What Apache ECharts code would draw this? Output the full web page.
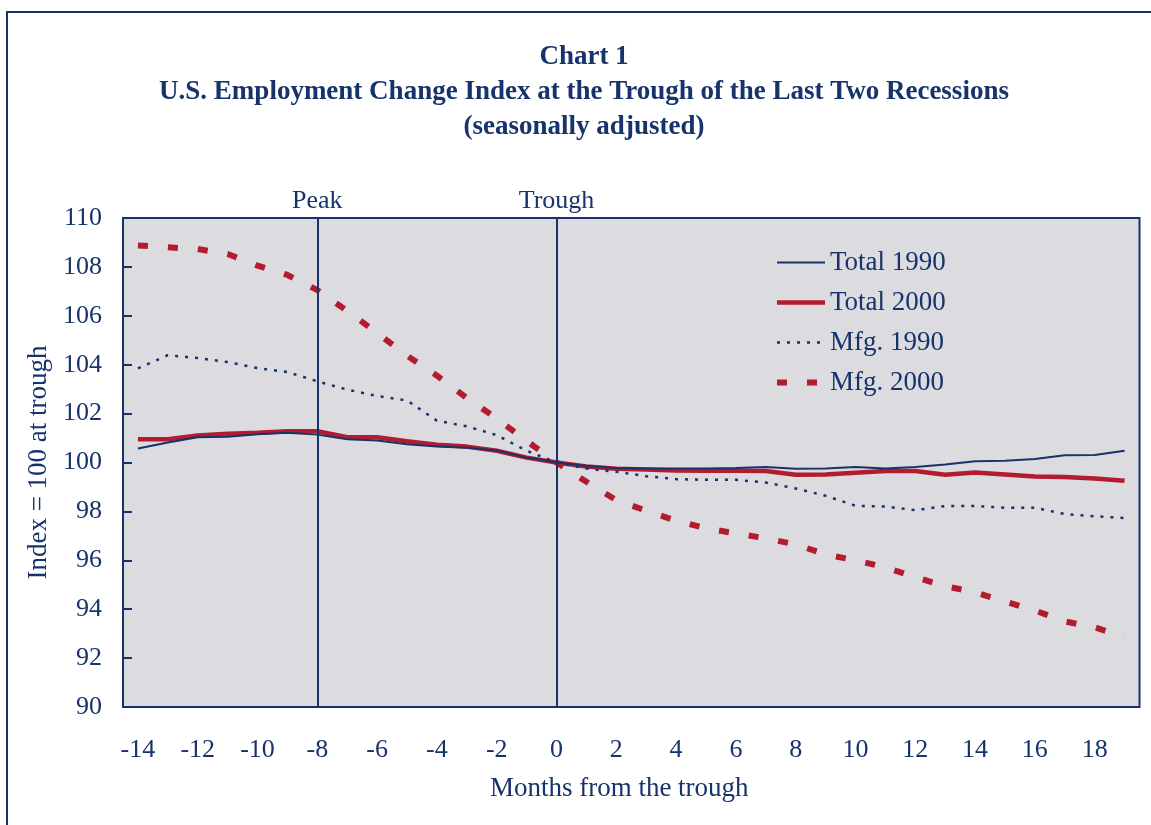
<!DOCTYPE html>
<html>
<head>
<meta charset="utf-8">
<title>Chart 1</title>
<script src="https://cdn.jsdelivr.net/npm/echarts@6/dist/echarts.min.js"></script>
<style>
  html, body { margin: 0; padding: 0; background: #fff; }
  #container { width: 1151px; height: 825px; }
</style>
</head>
<body>
<div id="container"></div>
<script>
// months from the trough, -14 .. 19
var months = [];
for (var m = -14; m <= 19; m++) months.push(String(m));

var total1990 = [100.57, 100.82, 101.03, 101.05, 101.16, 101.22, 101.14, 100.95, 100.90, 100.75, 100.65, 100.60, 100.49, 100.20,
  100.00, 99.86, 99.77, 99.75, 99.75, 99.75, 99.78, 99.82, 99.74, 99.75,
  99.82, 99.75, 99.82, 99.92, 100.05, 100.07, 100.14, 100.30, 100.31, 100.48];
var total2000 = [100.95, 100.95, 101.10, 101.18, 101.22, 101.28, 101.28, 101.03, 101.03, 100.87, 100.73, 100.65, 100.48, 100.20,
  100.00, 99.84, 99.74, 99.71, 99.67, 99.66, 99.66, 99.65, 99.50, 99.51,
  99.58, 99.65, 99.65, 99.50, 99.59, 99.51, 99.43, 99.41, 99.35, 99.25];
var mfg1990 = [103.85, 104.39, 104.27, 104.11, 103.86, 103.70, 103.32, 102.98, 102.72, 102.54, 101.71, 101.48, 101.12, 100.48,
  100.00, 99.75, 99.62, 99.44, 99.32, 99.29, 99.29, 99.18, 98.94, 98.64,
  98.23, 98.20, 98.05, 98.22, 98.22, 98.15, 98.15, 97.89, 97.80, 97.73];
var mfg2000 = [108.88, 108.80, 108.73, 108.53, 108.05, 107.67, 107.05, 106.20, 105.30, 104.37, 103.55, 102.64, 101.80, 100.88,
  100.00, 99.21, 98.46, 98.03, 97.62, 97.31, 97.10, 96.90, 96.65, 96.24,
  96.00, 95.71, 95.31, 94.94, 94.69, 94.31, 93.95, 93.50, 93.26, 92.86];

var markers = [{ month: '-8', label: 'Peak' }, { month: '0', label: 'Trough' }];

var navy = '#17336b';
var red = '#b31b2f';
var serif = '"Liberation Serif", "DejaVu Serif", serif';

var myChart = echarts.init(document.getElementById('container'));

var option = {
  animation: false,
  backgroundColor: '#fff',
  textStyle: { fontFamily: serif, color: navy },
  title: {
    text: 'Chart 1\nU.S. Employment Change Index at the Trough of the Last Two Recessions\n(seasonally adjusted)',
    left: 579,
    top: 35,
    textAlign: 'center',
    textStyle: {
      fontFamily: serif,
      fontSize: 27,
      fontWeight: 'bold',
      color: navy,
      lineHeight: 35
    }
  },
  graphic: [{
    type: 'rect',
    shape: { x: 7, y: 12, width: 1200, height: 900 },
    style: { fill: 'none', stroke: navy, lineWidth: 2 },
    silent: true
  }],
  legend: {
    orient: 'vertical',
    left: 769,
    top: 244,
    itemWidth: 48,
    itemHeight: 14,
    itemGap: 13,
    itemStyle: { opacity: 0 },
    lineStyle: { width: 'inherit' },
    textStyle: { fontFamily: serif, fontSize: 27, color: navy, lineHeight: 27 },
    data: ['Total 1990', 'Total 2000', 'Mfg. 1990', 'Mfg. 2000']
  },
  grid: {
    left: 123,
    top: 218,
    right: 11.5,
    bottom: 118,
    show: true,
    backgroundColor: '#dcdbe0',
    borderColor: navy,
    borderWidth: 2
  },
  xAxis: {
    type: 'category',
    data: months,
    boundaryGap: true,
    name: 'Months from the trough',
    nameLocation: 'middle',
    nameGap: 68,
    nameTextStyle: { fontFamily: serif, fontSize: 27, color: navy, padding: [0, 24, 0, 0] },
    axisLine: { show: false },
    axisTick: { show: false },
    axisLabel: { interval: 1, margin: 30, fontFamily: serif, fontSize: 26, color: navy },
    splitLine: { show: false }
  },
  yAxis: {
    type: 'value',
    min: 90,
    max: 110,
    interval: 2,
    name: 'Index = 100 at trough',
    nameLocation: 'middle',
    nameGap: 70,
    nameTextStyle: { fontFamily: serif, fontSize: 27, color: navy },
    axisLine: { show: false },
    axisTick: { show: true, inside: true, length: 9, lineStyle: { color: navy, width: 2 } },
    axisLabel: { margin: 21, fontFamily: serif, fontSize: 26, color: navy },
    splitLine: { show: false }
  },
  series: [
    {
      name: 'Total 1990',
      type: 'line',
      data: total1990,
      symbol: 'none',
      color: navy,
      lineStyle: { color: navy, width: 2 },
      z: 4,
      markLine: {
        silent: true,
        symbol: 'none',
        lineStyle: { color: navy, width: 2, type: 'solid' },
        label: {
          position: 'end',
          distance: 4,
          fontFamily: serif,
          fontSize: 26,
          color: navy,
          formatter: function (p) { return p.name; }
        },
        data: markers.map(function (d) { return { name: d.label, xAxis: d.month }; })
      }
    },
    {
      name: 'Total 2000',
      type: 'line',
      data: total2000,
      symbol: 'none',
      color: red,
      lineStyle: { color: red, width: 4.5 },
      z: 3
    },
    {
      name: 'Mfg. 1990',
      type: 'line',
      data: mfg1990,
      symbol: 'none',
      color: navy,
      lineStyle: { color: navy, width: 2.5, type: [3, 7] },
      z: 3
    },
    {
      name: 'Mfg. 2000',
      type: 'line',
      data: mfg2000,
      symbol: 'none',
      color: red,
      lineStyle: { color: red, width: 6, type: [10, 20] },
      z: 3
    }
  ]
};
myChart.setOption(option);
</script>
</body>
</html>
